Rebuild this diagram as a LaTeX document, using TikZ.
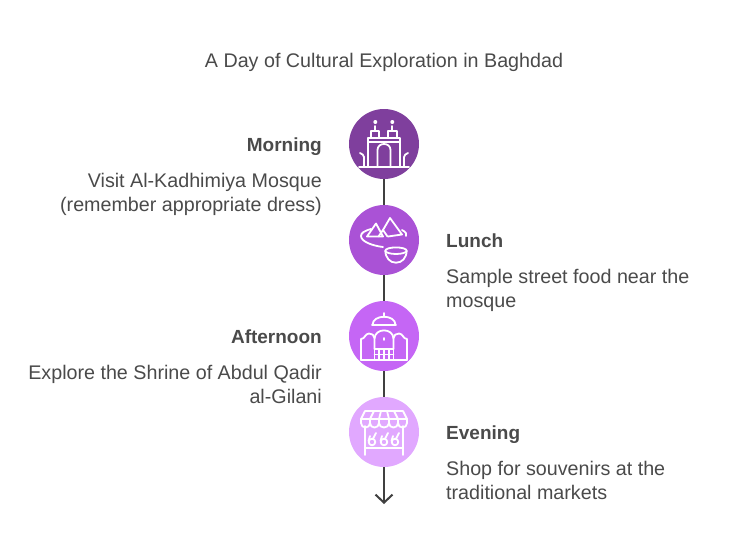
\documentclass[tikz,border=0pt]{standalone}
\usepackage{fontspec}
\setmainfont{Liberation Sans}
\usetikzlibrary{arrows.meta}
\definecolor{inktext}{HTML}{4A4A4A}
\definecolor{inkline}{HTML}{404040}
\definecolor{morningfill}{HTML}{7F3F9D}
\definecolor{lunchfill}{HTML}{AA52D6}
\definecolor{afternoonfill}{HTML}{C566F5}
\definecolor{eveningfill}{HTML}{E1A8FF}
\tikzset{
  stopdot/.style={circle,minimum size=70pt,inner sep=0pt,outer sep=0pt},
  headtext/.style={text=inktext,font=\fontsize{19}{24}\selectfont\bfseries,inner sep=0pt},
  bodytext/.style={text=inktext,font=\fontsize{19.7}{24}\selectfont,inner sep=0pt},
  linkline/.style={draw=inkline,line width=2pt},
  iconline/.style={draw=white,line width=1.8pt,line cap=round,line join=round}
}
\begin{document}
\begin{tikzpicture}[x=1pt,y=-1pt]
  \useasboundingbox (0,0) rectangle (732,552);
  \node [bodytext,anchor=base] (title) at (384,67) {A Day of Cultural Exploration in Baghdad};
  % stops
  \node [stopdot,fill=morningfill] (morning) at (384,144) {};
  \node [stopdot,fill=lunchfill] (lunch) at (384,240) {};
  \node [stopdot,fill=afternoonfill] (afternoon) at (384,336) {};
  \node [stopdot,fill=eveningfill] (evening) at (384,432) {};
  \coordinate (arrowend) at (384,504);
  \draw [linkline] (morning) -- (lunch);
  \draw [linkline] (lunch) -- (afternoon);
  \draw [linkline] (afternoon) -- (evening);
  \draw [linkline,-{Straight Barb[length=8pt,width=17pt]}] (evening) -- (arrowend);
  % labels
  \node [headtext,anchor=base east] (morninghead) at (322,151) {Morning};
  \node [bodytext,anchor=base east,align=right] (morningbody) at (322,211) {Visit Al-Kadhimiya Mosque\\(remember appropriate dress)};
  \node [headtext,anchor=base west] (lunchhead) at (446,247) {Lunch};
  \node [bodytext,anchor=base west,align=left] (lunchbody) at (446,307) {Sample street food near the\\mosque};
  \node [headtext,anchor=base east] (afternoonhead) at (322,343) {Afternoon};
  \node [bodytext,anchor=base east,align=right] (afternoonbody) at (322,403) {Explore the Shrine of Abdul Qadir\\al-Gilani};
  \node [headtext,anchor=base west] (eveninghead) at (446,439) {Evening};
  \node [bodytext,anchor=base west,align=left] (eveningbody) at (446,499) {Shop for souvenirs at the\\traditional markets};
  % mosque icon
  \begin{scope}[shift={(384,144)},iconline]
    \fill [white] (-8.7,-22) circle (2pt) (8.3,-22) circle (2pt);
    \draw (-8.7,-18) -- (-8.7,-13) (8.3,-18) -- (8.3,-13);
    \draw (-13,-6) -- (-13,-13) -- (-5,-13) -- (-5,-6) (4,-6) -- (4,-13) -- (13,-13) -- (13,-6);
    \draw (-16,23) -- (-16,-6) -- (16,-6) -- (16,23) (-16,-2) -- (16,-2);
    \draw (-25,23) -- (25,23);
    \draw (-6.5,23) -- (-6.5,6) .. controls (-6.5,-2) and (6.5,-2) .. (6.5,6) -- (6.5,23);
    \draw (-20,23) -- (-20,13) .. controls (-20,11) and (-22,10) .. (-24,9);
    \draw (20,23) -- (20,13) .. controls (20,11) and (22,10) .. (24,9);
  \end{scope}
  % food icon
  \begin{scope}[shift={(384,240)},iconline]
    \draw (-17,-3.5) -- (-8,-16.5) -- (-1,-3.5) -- cycle;
    \draw (-1,-10) -- (6,-22) -- (18,-5.5) -- (4,-3.5);
    \draw (-5.5,-3.5) -- (-1,-10) -- (3.5,-3.5);
    \draw (-13,-11) .. controls (-20,-9) and (-23,-7) .. (-23,-4) .. controls (-23,2) and (-10,6) .. (-1,7);
    \draw (18,-10) .. controls (22,-8) and (23,-6) .. (22,-4);
    \draw (12,10.7) ellipse (10.7pt and 3.3pt);
    \draw (1.3,10.7) .. controls (1.5,18) and (6,22.7) .. (12,22.7) .. controls (18,22.7) and (22.5,18) .. (22.7,10.7);
  \end{scope}
  % shrine icon
  \begin{scope}[shift={(384,336)},iconline]
    \draw (0,-23) -- (0,-19);
    \draw (-11.5,-11) .. controls (-11.5,-22) and (11.5,-22) .. (11.5,-11);
    \draw (-12,-11) -- (12,-11);
    \draw (-9.5,13) -- (-9.5,3) .. controls (-9.5,-8.5) and (9.5,-8.5) .. (9.5,3) -- (9.5,13);
    \draw (-23,24) -- (23,24);
    \draw (-23,24) -- (-23,3) .. controls (-19,3) and (-19,-2.5) .. (-15,-2.5) .. controls (-12,-2.5) and (-10,-1) .. (-9.5,2);
    \draw (23,24) -- (23,3) .. controls (19,3) and (19,-2.5) .. (15,-2.5) .. controls (12,-2.5) and (10,-1) .. (9.5,2);
    \draw (-9.5,13) -- (9.5,13) (-9.5,18.5) -- (9.5,18.5);
    \draw (-9.5,13) -- (-9.5,24) (-4.7,13) -- (-4.7,24) (0,13) -- (0,24) (4.7,13) -- (4.7,24) (9.5,13) -- (9.5,24);
    \draw (0,2) -- (0,4);
  \end{scope}
  % market icon
  \begin{scope}[shift={(384,432)},iconline]
    \draw (-19,-21) -- (19,-21) -- (23,-13) -- (-23,-13) -- cycle;
    \draw (-23,-13) -- (-23,-9) .. controls (-23,-3) and (-14,-3) .. (-14,-9);
    \draw (-14,-9) .. controls (-14,-3) and (-5,-3) .. (-5,-9);
    \draw (-5,-9) .. controls (-5,-3) and (5,-3) .. (5,-9);
    \draw (5,-9) .. controls (5,-3) and (14,-3) .. (14,-9);
    \draw (14,-9) .. controls (14,-3) and (23,-3) .. (23,-9) -- (23,-13);
    \draw (-14,-13) -- (-14,-9) (-5,-13) -- (-5,-9) (5,-13) -- (5,-9) (14,-13) -- (14,-9);
    \draw (-10,-21) -- (-14,-13) (-3,-21) -- (-5,-13) (3,-21) -- (5,-13) (10,-21) -- (14,-13);
    \draw (-19,-6) -- (-19,23) (19,-6) -- (19,23) (-19,16) -- (19,16);
    \draw (-12,10) circle (3.3pt) (0,10) circle (3.3pt) (11,10) circle (3.3pt);
    \draw (-11,6.7) -- (-8,1) (1,6.7) -- (4,1) (12,6.7) -- (15,1);
    \draw (-15.5,9) -- (-14,4) (-3.5,9) -- (-2,4) (7.5,9) -- (9,4);
  \end{scope}
\end{tikzpicture}
\end{document}
